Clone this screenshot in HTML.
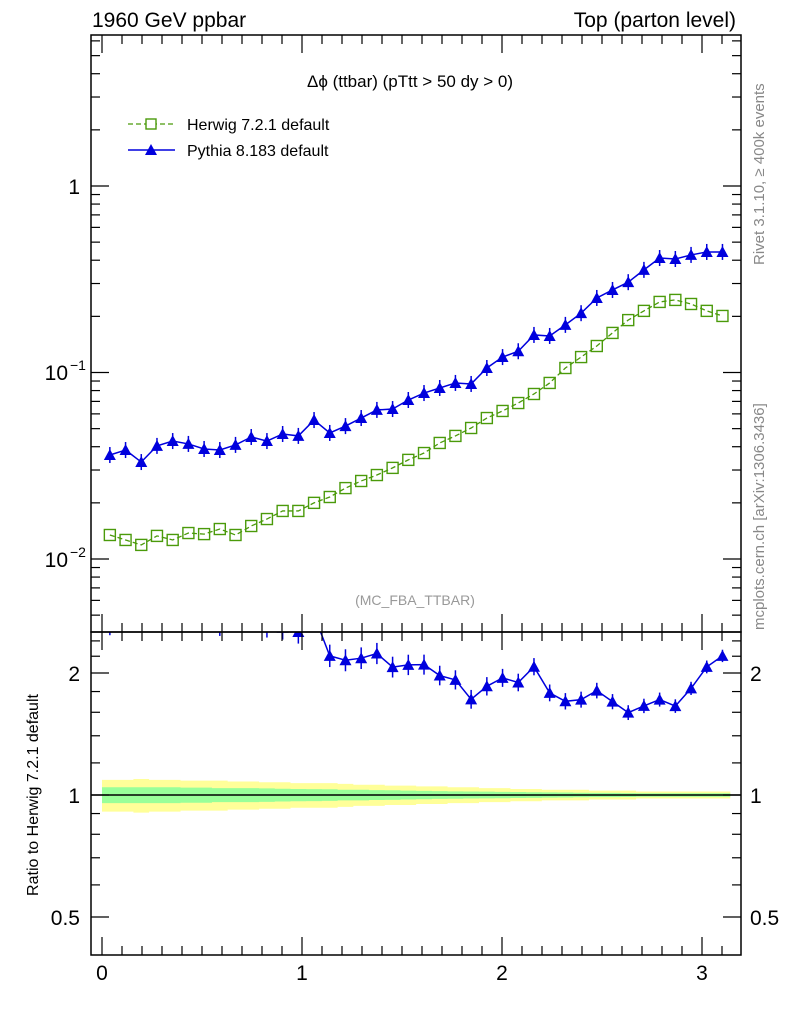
<!DOCTYPE html>
<html><head><meta charset="utf-8"><style>
body{margin:0;background:#fff;width:786px;height:1024px;overflow:hidden}
svg text{font-family:"Liberation Sans",sans-serif}
</style></head><body>
<svg id="c" width="786" height="1024" xmlns="http://www.w3.org/2000/svg"></svg>
<script>
const herwig=[0.01345,0.01265,0.0119,0.0133,0.01265,0.01378,0.0136,0.01448,0.01345,0.01503,0.01638,0.0181,0.0181,0.020,0.0215,0.024,0.0262,0.0282,0.0308,0.034,0.037,0.0419,0.0457,0.0504,0.057,0.0622,0.0686,0.0767,0.0879,0.1057,0.121,0.1387,0.163,0.191,0.214,0.239,0.245,0.233,0.214,0.201];
const pythia=[0.0361,0.0384,0.0331,0.0404,0.0429,0.0414,0.0389,0.0384,0.0409,0.0451,0.0429,0.0468,0.0457,0.0556,0.0474,0.0516,0.0570,0.0630,0.0637,0.0712,0.0776,0.0826,0.0879,0.0868,0.1057,0.121,0.130,0.159,0.157,0.180,0.208,0.251,0.277,0.305,0.355,0.411,0.406,0.427,0.443,0.443];
const yellowBand=[0.09,0.09,0.095,0.09,0.09,0.085,0.085,0.085,0.08,0.08,0.075,0.075,0.07,0.07,0.07,0.065,0.06,0.06,0.055,0.055,0.05,0.05,0.045,0.045,0.04,0.04,0.035,0.035,0.03,0.03,0.03,0.025,0.025,0.025,0.02,0.02,0.02,0.02,0.02,0.02];
const greenBand=[0.045,0.045,0.045,0.045,0.045,0.043,0.043,0.04,0.04,0.04,0.038,0.036,0.035,0.034,0.033,0.03,0.03,0.028,0.027,0.025,0.024,0.022,0.021,0.02,0.019,0.018,0.017,0.016,0.015,0.014,0.013,0.012,0.012,0.011,0.01,0.01,0.01,0.01,0.01,0.01];
const xTicks=[0,1,2,3];
const NS="http://www.w3.org/2000/svg",svg=document.getElementById('c');
function el(t,a,p){const e=document.createElementNS(NS,t);for(const k in a)e.setAttribute(k,a[k]);(p||svg).appendChild(e);return e;}
const L=91,R=741,T=35,M=632,B=955;
const X=v=>102+200*v;
const Y=v=>186-186.5*Math.log10(v);
const YR=v=>795-122*Math.log2(v);
const n=herwig.length,w=Math.PI/n,xc=i=>(i+0.5)*w;
let cp=el('clipPath',{id:'rc'});el('rect',{x:L,y:M,width:R-L,height:B-M},cp);
let cm=el('clipPath',{id:'mc'});el('rect',{x:L,y:T,width:R-L,height:M-T},cm);
function band(arr,col,name){let up='',dn='';for(let i=0;i<n;i++){const x0=X(i*w),x1=X((i+1)*w);up+=`L${x0},${YR(1+arr[i])}L${x1},${YR(1+arr[i])}`;dn=`L${x1},${YR(1-arr[i])}L${x0},${YR(1-arr[i])}`+dn;}
const p=el('path',{d:'M'+up.slice(1)+dn+'Z',fill:col});

}
band(yellowBand,'#ffff99','ratio-band-yellow');band(greenBand,'#99ff99','ratio-band-green');
el('line',{x1:L,x2:R,y1:YR(1),y2:YR(1),stroke:'#000','stroke-width':1.5});
let g=el('g',{'clip-path':'url(#mc)'});
let d='';herwig.forEach((v,i)=>{d+=(i?'L':'M')+X(xc(i))+','+Y(v);});
el('path',{d,fill:'none',stroke:'#4a9a0a','stroke-width':1.3,'stroke-dasharray':'5,3'},g);
herwig.forEach((v,i)=>{const r=el('rect',{x:X(xc(i))-5.5,y:Y(v)-5.5,width:11,height:11,fill:'none',stroke:'#4a9a0a','stroke-width':1.4},g);

});
function tri(px,py,gg,name){const t=el('path',{d:`M${px},${py-6}L${px+6},${py+5}L${px-6},${py+5}Z`,fill:'#0000dd'},gg);

}
d='';pythia.forEach((v,i)=>{d+=(i?'L':'M')+X(xc(i))+','+Y(v);});
el('path',{d,fill:'none',stroke:'#0000dd','stroke-width':1.5},g);
pythia.forEach((v,i)=>{const px=X(xc(i)),py=Y(v);el('line',{x1:px,x2:px,y1:py-8,y2:py+8,stroke:'#0000dd','stroke-width':1.5},g);tri(px,py,g,'pythia-point');});
let gr=el('g',{'clip-path':'url(#rc)'});
d='';pythia.forEach((v,i)=>{d+=(i?'L':'M')+X(xc(i))+','+YR(v/herwig[i]);});
el('path',{d,fill:'none',stroke:'#0000dd','stroke-width':1.5},gr);
pythia.forEach((v,i)=>{const px=X(xc(i)),py=YR(v/herwig[i]);el('line',{x1:px,x2:px,y1:py-14+i*0.2,y2:py+14-i*0.2,stroke:'#0000dd','stroke-width':1.5},gr);tri(px,py,gr,'ratio-point');});
el('rect',{x:L,y:T,width:R-L,height:M-T,fill:'none',stroke:'#000','stroke-width':1.5});
el('rect',{x:L,y:M,width:R-L,height:B-M,fill:'none',stroke:'#000','stroke-width':1.5});
for(let v=-0.1;v<=3.2;v+=0.1){const vv=Math.round(v*10)/10;const px=X(vv);if(px<L||px>R)continue;const big=Math.abs(vv-Math.round(vv))<1e-6;const h=big?18:9;
[[T,1],[M,-1],[M,1],[B,-1]].forEach(([y0,s])=>el('line',{x1:px,x2:px,y1:y0,y2:y0+s*h,stroke:'#000','stroke-width':1.2}));}
xTicks.forEach(v=>{const t=el('text',{x:X(v),y:980,'font-size':21,'text-anchor':'middle'});t.textContent=v;

});
for(let e=-3;e<=0;e++)for(let m=1;m<10;m++){const v=m*Math.pow(10,e),py=Y(v);if(py<T||py>M)continue;const h=m==1?18:9;
el('line',{x1:L,x2:L+h,y1:py,y2:py,stroke:'#000','stroke-width':1.2});el('line',{x1:R,x2:R-h,y1:py,y2:py,stroke:'#000','stroke-width':1.2});}
let t=el('text',{x:80,y:194,'font-size':21,'text-anchor':'end'});t.textContent='1';
[['10','−1',380],['10','−2',567]].forEach(([b,e,y])=>{const tt=el('text',{x:68,y:y,'font-size':21,'text-anchor':'end'});tt.textContent=b;const s=el('text',{x:70,y:y-10,'font-size':14});s.textContent=e;});
[0.5,0.6,0.7,0.8,0.9,1,1.2,1.4,1.6,1.8,2,2.2,2.4].forEach(v=>{const py=YR(v);const big=[0.5,1,2].includes(v);const h=big?18:9;
el('line',{x1:L,x2:L+h,y1:py,y2:py,stroke:'#000','stroke-width':1.2});el('line',{x1:R,x2:R-h,y1:py,y2:py,stroke:'#000','stroke-width':1.2});
if(big){const a=el('text',{x:80,y:py+8,'font-size':21,'text-anchor':'end'});a.textContent=v;const b2=el('text',{x:750,y:py+8,'font-size':21});b2.textContent=v;}});
</script>
<svg width="786" height="1024" style="position:absolute;left:0;top:0">
<text x="92" y="27" font-size="21">1960 GeV ppbar</text>
<text x="736" y="27" font-size="21" text-anchor="end">Top (parton level)</text>
<text x="410" y="87" font-size="17" text-anchor="middle">Δϕ (ttbar) (pTtt &gt; 50 dy &gt; 0)</text>
<g><line x1="128" x2="175" y1="124" y2="124" stroke="#4a9a0a" stroke-dasharray="5,3" stroke-width="1.3"/><rect x="146" y="119" width="10" height="10" fill="#fff" stroke="#4a9a0a" stroke-width="1.4"/><text x="187" y="130" font-size="16">Herwig 7.2.1 default</text></g>
<g><line x1="128" x2="175" y1="150" y2="150" stroke="#0000dd" stroke-width="1.5"/><path d="M151,144L157,155L145,155Z" fill="#0000dd"/><text x="187" y="156" font-size="16">Pythia 8.183 default</text></g>
<text x="415" y="605" font-size="14" fill="#999" text-anchor="middle">(MC_FBA_TTBAR)</text>
<text transform="translate(38,795) rotate(-90)" font-size="16" text-anchor="middle">Ratio to Herwig 7.2.1 default</text>
<text transform="translate(764,265) rotate(-90)" font-size="15" fill="#888">Rivet 3.1.10, ≥ 400k events</text>
<text transform="translate(764,630) rotate(-90)" font-size="15" fill="#888">mcplots.cern.ch [arXiv:1306.3436]</text>
</svg>
</body></html>
